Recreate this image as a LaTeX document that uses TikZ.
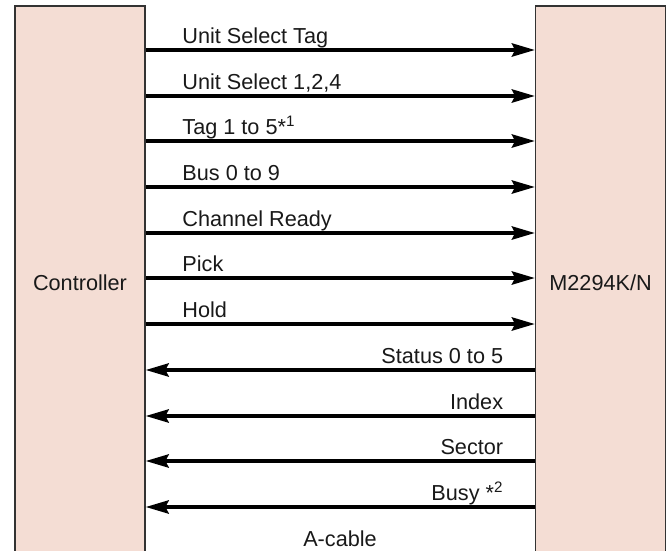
\documentclass[tikz,border=0pt]{standalone}
\usepackage{fontspec}
\setmainfont{Liberation Sans}
\usetikzlibrary{arrows.meta,positioning}

\definecolor{boxpink}{HTML}{F4DDD4}
\tikzset{
  unit/.style={draw=black!80,line width=1.3pt,fill=boxpink,minimum width=3.9cm,minimum height=16.62cm,inner sep=0pt},
  wire/.style={line width=2.8pt,-{Stealth[length=0.69cm,width=0.4cm,inset=0.1cm]}},
  fwd/.style={at start,anchor=base west,inner sep=0pt,xshift=1.05cm,yshift=0.21cm},
  bwd/.style={at start,anchor=base east,inner sep=0pt,xshift=-0.9cm,yshift=0.21cm}
}

\begin{document}
\begin{tikzpicture}[x=0.03cm,y=-0.03cm,font=\fontsize{18.5pt}{20pt}\selectfont,text=black!90]
\useasboundingbox (0,0) rectangle (668,550);
\clip (0,0) rectangle (668,550);
\node[unit] (ctrl) at (80,283) {Controller};
\node[unit] (dev) [right=11.67cm of ctrl] {M2294K/N};
\path[wire]
(ctrl.east |- 0,50) edge node[fwd] {Unit Select Tag} (dev.west |- 0,50)
(ctrl.east |- 0,96) edge node[fwd] {Unit Select 1,2,4} (dev.west |- 0,96)
(ctrl.east |- 0,141) edge node[fwd] {Tag 1 to 5*\textsuperscript{1}} (dev.west |- 0,141)
(ctrl.east |- 0,187) edge node[fwd] {Bus 0 to 9} (dev.west |- 0,187)
(ctrl.east |- 0,233) edge node[fwd] {Channel Ready} (dev.west |- 0,233)
(ctrl.east |- 0,278) edge node[fwd] {Pick} (dev.west |- 0,278)
(ctrl.east |- 0,324) edge node[fwd] {Hold} (dev.west |- 0,324)
(dev.west |- 0,370) edge node[bwd] {Status 0 to 5} (ctrl.east |- 0,370)
(dev.west |- 0,416) edge node[bwd] {Index} (ctrl.east |- 0,416)
(dev.west |- 0,461) edge node[bwd] {Sector} (ctrl.east |- 0,461)
(dev.west |- 0,507) edge node[bwd] {Busy *\textsuperscript{2}} (ctrl.east |- 0,507);
\node[anchor=base] (cable) at (340,546) {A-cable};
\end{tikzpicture}
\end{document}
